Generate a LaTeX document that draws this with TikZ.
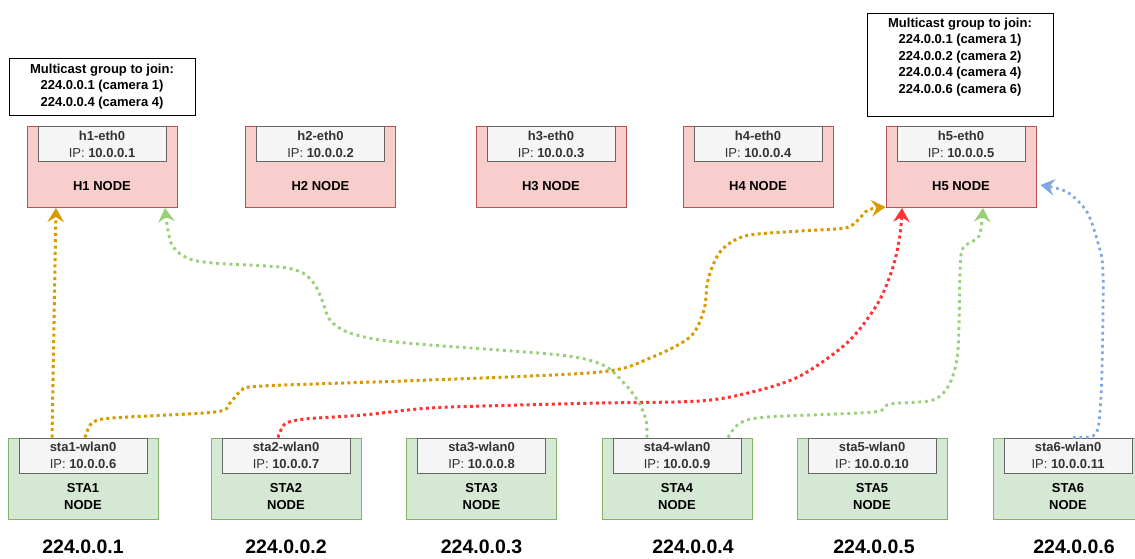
\documentclass[tikz,border=0pt]{standalone}
\usepackage{fontspec}
\setmainfont{Liberation Sans}
\usetikzlibrary{arrows.meta}

\definecolor{hostfill}{HTML}{F8CECC}
\definecolor{hoststroke}{HTML}{B85450}
\definecolor{stafill}{HTML}{D5E8D4}
\definecolor{stastroke}{HTML}{82B366}
\definecolor{iffill}{HTML}{F5F5F5}
\definecolor{ifstroke}{HTML}{666666}
\definecolor{iftext}{HTML}{333333}
\definecolor{linkorange}{HTML}{D79B00}
\definecolor{linkred}{HTML}{FF3333}
\definecolor{linkgreen}{HTML}{97D077}
\definecolor{linkblue}{HTML}{7EA6E0}

\begin{document}
\begin{tikzpicture}[x=1pt,y=-1pt,
  hostbox/.style={draw=hoststroke, fill=hostfill, line width=1pt,
    minimum width=150pt, minimum height=81pt, inner sep=0pt},
  stabox/.style={draw=stastroke, fill=stafill, line width=1pt,
    minimum width=150pt, minimum height=81pt, inner sep=0pt},
  ifbox/.style={draw=ifstroke, fill=iffill, line width=1pt,
    minimum width=128pt, minimum height=35pt, inner sep=0pt, align=center,
    text=iftext, font=\fontsize{13}{17}\selectfont, anchor=north},
  nodelbl/.style={font=\bfseries\fontsize{13}{17}\selectfont, align=center, inner sep=0pt},
  mcbox/.style={draw=black, line width=1pt, minimum width=186pt, inner sep=0pt},
  mctext/.style={font=\bfseries\fontsize{13}{16.5}\selectfont, align=center, inner sep=0pt},
  grouplbl/.style={font=\bfseries\fontsize{19.5}{22}\selectfont, inner sep=0pt},
  tip/.style={-{Stealth[length=14pt,width=16.5pt,inset=5pt]}},
  orangelink/.style={tip, draw=linkorange, line width=3pt, dash pattern=on 3pt off 3.3pt},
  redlink/.style={tip, draw=linkred, line width=3pt, dash pattern=on 3pt off 3.3pt},
  greenlink/.style={tip, draw=linkgreen, line width=2.9pt, dash pattern=on 2.9pt off 3.8pt},
  bluelink/.style={tip, draw=linkblue, line width=2.7pt, dash pattern=on 2.7pt off 3.8pt}
]
\useasboundingbox (0,0) rectangle (1135,558);
\clip (0,0) rectangle (1135,558);

% hosts
\foreach \n/\x in {1/102,2/320.5,3/551,4/758,5/961}{
  \node[hostbox] (h\n) at (\x,167) {};
  \node[ifbox] (h\n if) at (h\n.north) {\textbf{h\n-eth0}\\IP: \textbf{10.0.0.\n}};
  \node[nodelbl] (h\n lbl) at ([yshift=-19pt]h\n.center) {H\n\ NODE};
}

% stations
\foreach \n/\x/\ip in {1/83/6,2/286/7,3/481.5/8,4/677/9,5/872/10,6/1068/11}{
  \node[stabox] (sta\n) at (\x,478.5) {};
  \node[ifbox] (sta\n if) at (sta\n.north) {\textbf{sta\n-wlan0}\\IP: \textbf{10.0.0.\ip}};
  \node[nodelbl] (sta\n lbl) at ([yshift=-18pt]sta\n.center) {STA\n\\NODE};
}

% multicast group labels under the stations
\node[grouplbl] (g1) at ([yshift=-68.5pt]sta1.center) {224.0.0.1};
\node[grouplbl] (g2) at ([yshift=-68.5pt]sta2.center) {224.0.0.2};
\node[grouplbl] (g3) at ([yshift=-68.5pt]sta3.center) {224.0.0.3};
\node[grouplbl] (g4) at ([xshift=16pt,yshift=-68.5pt]sta4.center) {224.0.0.4};
\node[grouplbl] (g5) at ([xshift=2pt,yshift=-68.5pt]sta5.center) {224.0.0.5};
\node[grouplbl] (g6) at ([xshift=6pt,yshift=-68.5pt]sta6.center) {224.0.0.6};

% groups each host joins
\node[mcbox, minimum height=57pt] (mc1) at (102,86.5) {};
\node[mctext] (mc1t) at (mc1.center) {Multicast group to join:\\224.0.0.1 (camera 1)\\224.0.0.4 (camera 4)};
\node[mcbox, minimum height=103pt] (mc5) at (960,64.5) {};
\node[mctext, anchor=north] (mc5t) at ([yshift=-5pt]mc5.north) {Multicast group to join:\\224.0.0.1 (camera 1)\\224.0.0.2 (camera 2)\\224.0.0.4 (camera 4)\\224.0.0.6 (camera 6)};

% multicast streams
\draw[orangelink] ([xshift=-31pt]sta1.north) -- ([xshift=-46pt]h1.south);
\draw[orangelink] plot[smooth, tension=0.5] coordinates {([xshift=2pt]sta1.north) (92,423) (112,418) (215,412) (230,403) (241,391) (262,386) (430,380) (600,372) (650,358) (690,337) (704,310) (708,280) (720,252) (745,236) (800,231) (845,228) (858,220) (868,210) ([yshift=1pt]h5.south west)};
\draw[redlink] plot[smooth, tension=0.5] coordinates {([xshift=-8pt]sta2.north) (285,424) (305,419) (363,415) (430,408) (520,405) (600,403) (700,401) (752,392) (800,376) (848,342) (878,303) (893,267) (900,235) ([xshift=-59pt]h5.south)};
\draw[greenlink] plot[smooth, tension=0.5] coordinates {([xshift=-30pt]sta4.north) (646,420) (638,401) (624,383) (603,365) (560,355) (430,345) (380,340) (347,332) (330,320) (322,300) (315,285) (303,273) (280,267) (213,263) (187,258) (171,243) ([xshift=63pt]h1.south)};
\draw[greenlink] plot[smooth, tension=0.5] coordinates {([xshift=51pt]sta4.north) (740,423) (767,417) (873,412) (890,404) (933,400) (950,383) (958,350) (960,273) (963,248) (979,236) ([xshift=22pt]h5.south)};
\draw[bluelink] plot[smooth, tension=0.5] coordinates {([xshift=5pt]sta6.north) (1093,436) (1099,422) (1102,370) (1103,272) (1098,243) (1087,212) (1067,192) ([xshift=4pt,yshift=-18pt]h5.east)};
\end{tikzpicture}
\end{document}
